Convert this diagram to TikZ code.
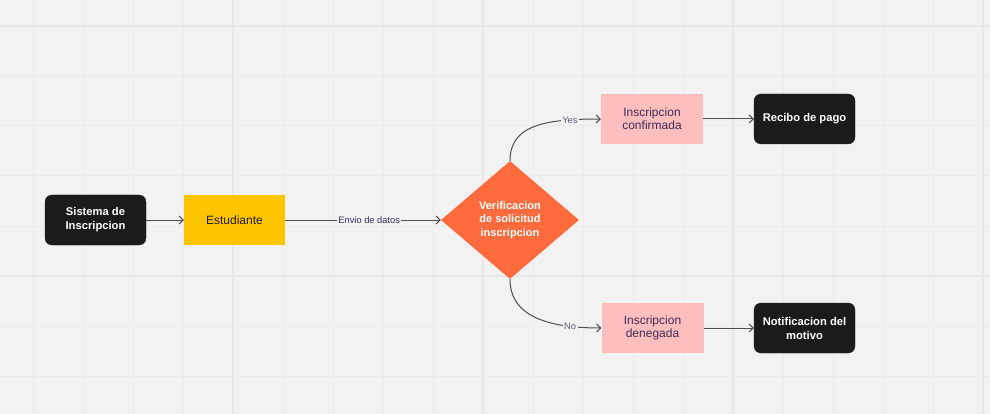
\documentclass[tikz,border=0pt]{standalone}
\usepackage{fontspec}
\setmainfont{Liberation Sans}
\usetikzlibrary{arrows.meta,shapes.geometric}
\definecolor{bg}{HTML}{F2F2F2}
\definecolor{gridminor}{HTML}{EBEBEB}
\definecolor{gridmajor}{HTML}{E7E7E7}
\definecolor{darkbox}{HTML}{1B1B1B}
\definecolor{yellowbox}{HTML}{FFC400}
\definecolor{orangebox}{HTML}{FF6B3D}
\definecolor{pinkbox}{HTML}{FFBEBE}
\definecolor{pinktext}{HTML}{3B2E5A}
\definecolor{edgecol}{HTML}{4D4D4D}
\definecolor{labeltext}{HTML}{2E2B57}
\definecolor{yesno}{HTML}{5E5C7C}
\begin{document}
\begin{tikzpicture}[x=1pt,y=-1pt,
  darknode/.style={draw=darkbox, fill=darkbox, rounded corners=7pt, text=white,
    minimum width=101pt, minimum height=50pt, inner sep=0pt, align=center,
    font=\fontsize{11.2}{14}\selectfont\bfseries},
  yellownode/.style={fill=yellowbox, text=darkbox, minimum width=101pt, minimum height=50pt,
    inner sep=0pt, align=center, font=\fontsize{12}{13.5}\selectfont},
  pinknode/.style={fill=pinkbox, text=pinktext, minimum width=102pt, minimum height=50pt,
    inner sep=0pt, align=center, font=\fontsize{12}{13}\selectfont},
  diam/.style={diamond, aspect=1.17, fill=orangebox, text=white, minimum width=138pt,
    minimum height=118pt, inner sep=0pt, align=center,
    font=\fontsize{11}{13.5}\selectfont\bfseries},
  edge/.style={draw=edgecol, line width=1pt, -{Straight Barb[length=4pt,width=8pt]}},
  lbl/.style={fill=bg, text=labeltext, inner sep=1.5pt, font=\fontsize{9.3}{10}\selectfont},
  yn/.style={fill=bg, text=yesno, inner sep=1.5pt, font=\fontsize{9.3}{10}\selectfont}
]
\useasboundingbox (0,0) rectangle (990,414);
\fill[bg] (0,0) rectangle (990,414);
\foreach \gx in {33,83,...,983} \draw[gridminor, line width=1pt] (\gx,0) -- (\gx,414);
\foreach \gy in {26,76,...,376} \draw[gridminor, line width=1pt] (0,\gy) -- (990,\gy);
\foreach \gx in {233,483,733,983} \draw[gridmajor, line width=1.6pt] (\gx,0) -- (\gx,414);
\foreach \gy in {26,276} \draw[gridmajor, line width=1.6pt] (0,\gy) -- (990,\gy);

\node[darknode] (sis) at (95.5,220) {Sistema de\\Inscripcion};
\node[yellownode] (est) at (234.5,220) {Estudiante};
\node[diam] (ver) at (510,220) {Verificacion\\de solicitud\\inscripcion};
\node[pinknode] (conf) at (652,119) {Inscripcion\\confirmada};
\node[darknode] (rec) at (804.5,119) {Recibo de pago};
\node[pinknode] (den) at (652.5,328) {Inscripcion\\denegada};
\node[darknode] (notif) at (804.5,328) {Notificacion del\\motivo};

\draw[edge] (sis) -- (est);
\draw[edge] (est) -- node[lbl, pos=0.54] {Envio de datos} (ver);
\draw[edge] (ver.north) .. controls (510,125) and (545,119) .. node[yn, pos=0.8] {Yes} (conf.west);
\draw[edge] (ver.south) .. controls (510,315) and (545,328) .. node[yn, pos=0.8] {No} (den.west);
\draw[edge] (conf) -- (rec);
\draw[edge] (den) -- (notif);
\end{tikzpicture}
\end{document}
